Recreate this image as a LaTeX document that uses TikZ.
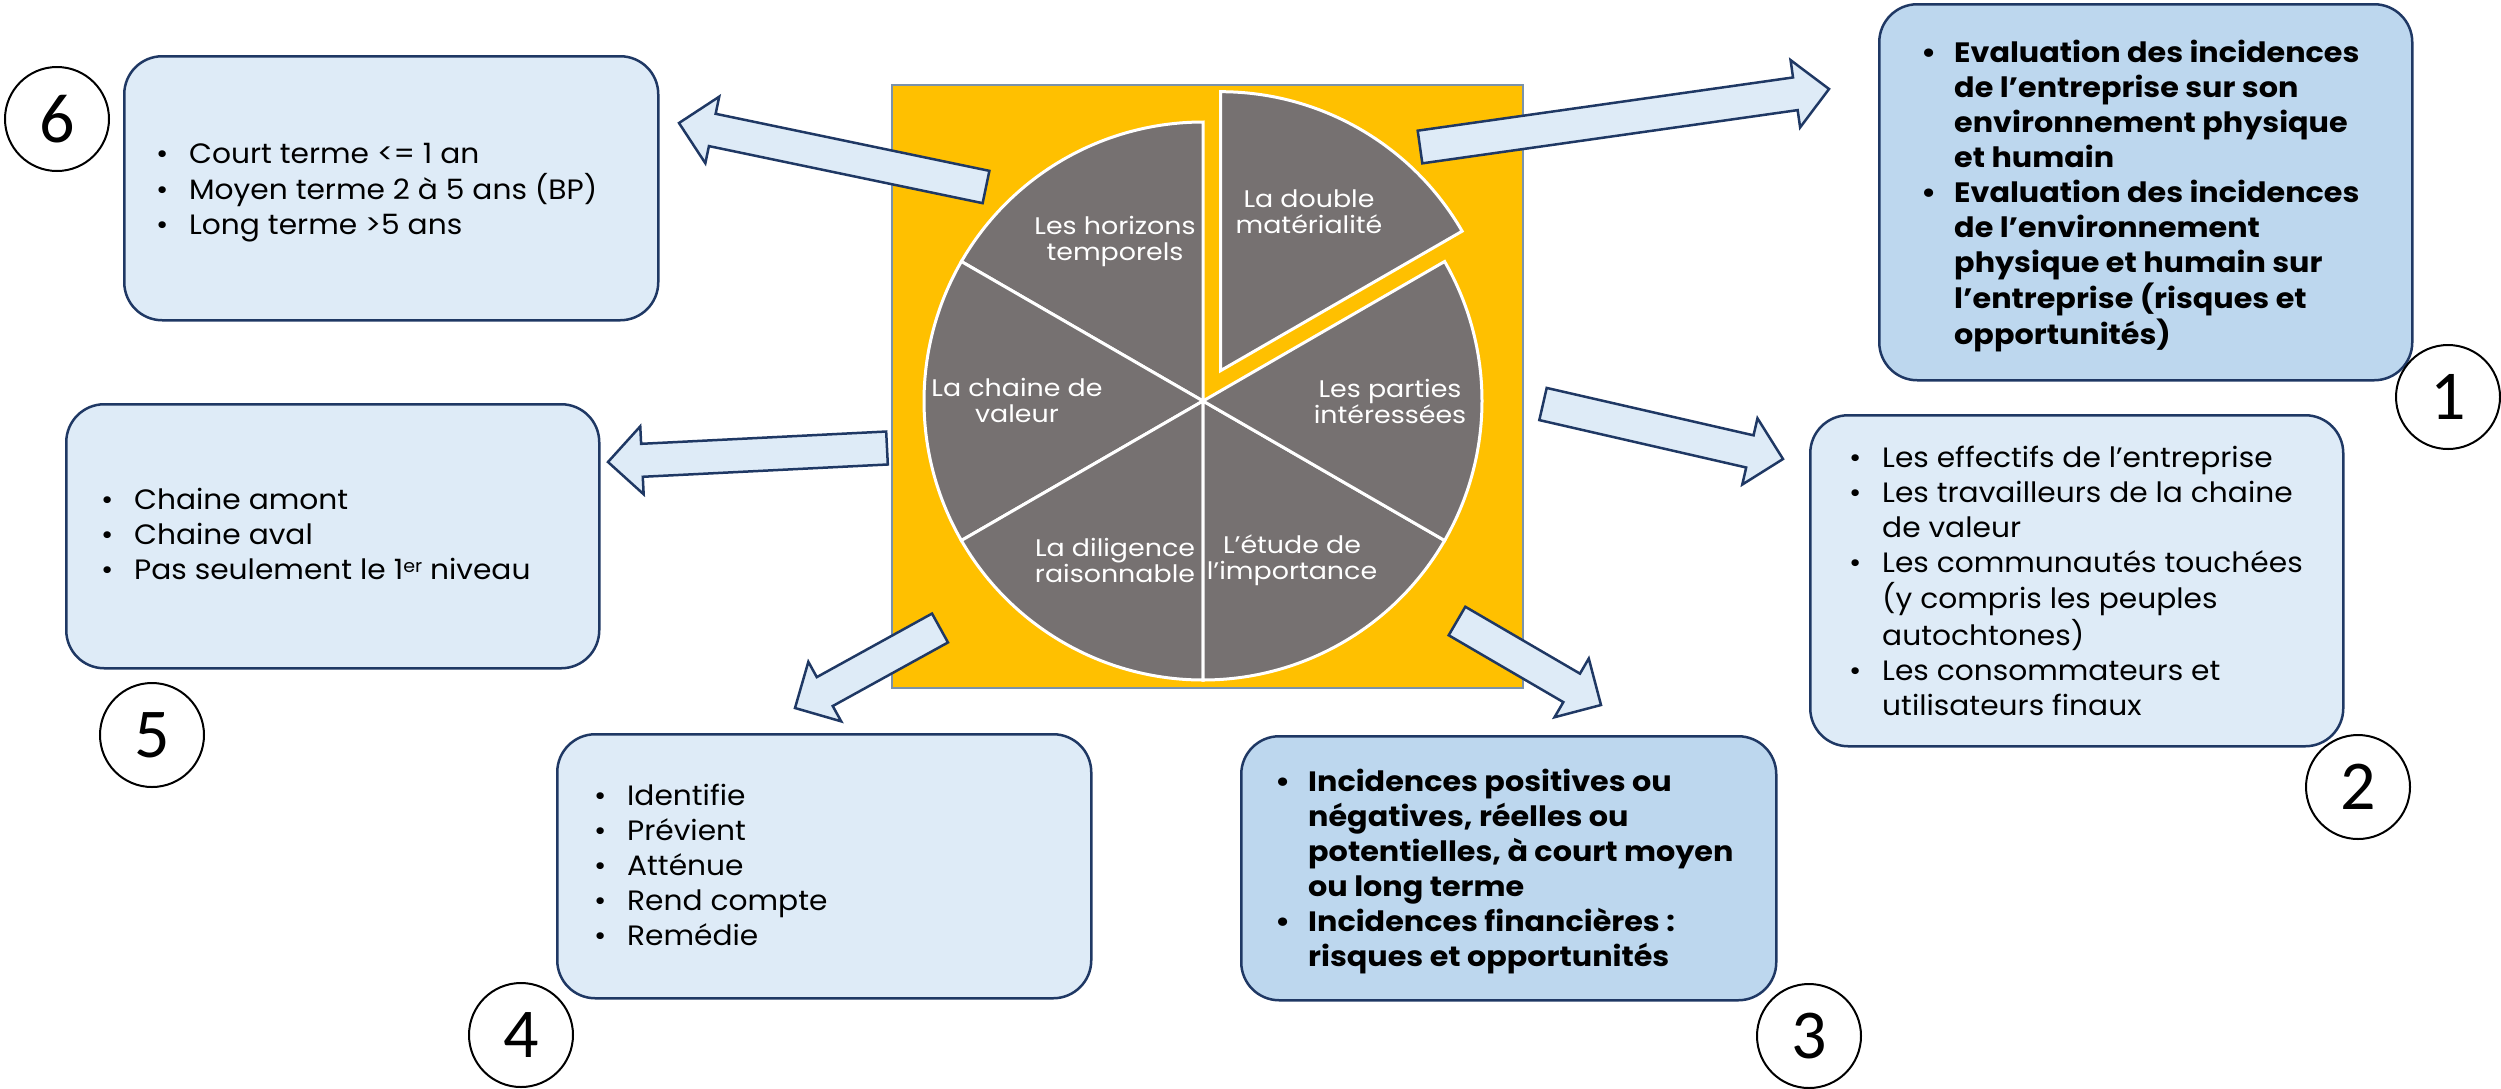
\documentclass[tikz,border=0pt]{standalone}
\usepackage{fontspec}
\setmainfont[FakeStretch=1.06]{Poppins}
\newfontfamily\boldfam[FakeStretch=1.08]{Poppins}
\newfontfamily\slicefam[FakeStretch=1.12]{Poppins}
\newfontfamily\numfont{Carlito}
\usetikzlibrary{calc}
\definecolor{navy}{HTML}{1F3864}
\definecolor{lightbox}{HTML}{DEEBF7}
\definecolor{midbox}{HTML}{BDD7EE}
\definecolor{gold}{HTML}{FFC000}
\definecolor{piegray}{HTML}{767171}
\definecolor{rectedge}{HTML}{7A92AA}
\newcommand\bulx{\makebox[33pt][l]{\textbullet}}
\newcommand\indx{\hspace*{33pt}}
\newcommand\blockarrow[2]{%
  \coordinate (#1H) at ($(#2)!34pt!(#1)$);
  \draw[arrowsty] ($(#1)!16.5pt!90:(#2)$) -- ($(#1H)!16.5pt!90:(#2)$) -- ($(#1H)!34pt!90:(#2)$) -- (#2)
     -- ($(#1H)!34pt!-90:(#2)$) -- ($(#1H)!16.5pt!-90:(#2)$) -- ($(#1)!16.5pt!-90:(#2)$) -- cycle;}
\begin{document}
\begin{tikzpicture}[x=1pt,y=-1pt,
  boxsty/.style={draw=navy, line width=2.5pt, rounded corners=38pt, inner sep=0pt, anchor=north west},
  txt/.style={anchor=base west, inner sep=0pt, font=\fontsize{28}{35}\selectfont},
  boldtxt/.style={anchor=base west, inner sep=0pt, font=\boldfam\fontsize{28}{35}\selectfont\bfseries},
  slicelbl/.style={text=white, align=center, inner sep=0pt, font=\slicefam\fontsize{24}{26}\selectfont},
  slicesty/.style={fill=piegray, draw=white, line width=3pt, line join=miter},
  numcirc/.style={circle, draw=black, line width=2pt, minimum size=104pt, inner sep=0pt, font=\numfont\fontsize{70}{70}\selectfont},
  arrowsty/.style={fill=lightbox, draw=navy, line width=2.5pt, line join=miter}]
\useasboundingbox (0,0) rectangle (2501,1088);

% boxes
\node[boxsty, fill=lightbox, minimum width=534pt, minimum height=264pt] (b6) at (123,55) {};
\node[boxsty, fill=midbox, minimum width=533pt, minimum height=376pt] (b1) at (1878,3) {};
\node[boxsty, fill=lightbox, minimum width=533pt, minimum height=331pt] (b2) at (1809,414) {};
\node[boxsty, fill=midbox, minimum width=535pt, minimum height=264pt] (b3) at (1240,735) {};
\node[boxsty, fill=lightbox, minimum width=534pt, minimum height=264pt] (b4) at (556,733) {};
\node[boxsty, fill=lightbox, minimum width=533pt, minimum height=264pt] (b5) at (65,403) {};

% box texts
\node[txt] (t6) at (156,163) {\begin{tabular}[t]{@{}l@{}}
\bulx Court terme <= 1 an\\
\bulx Moyen terme 2 à 5 ans (BP)\\
\bulx Long terme >5 ans\end{tabular}};
\node[boldtxt] (t1) at (1921,62) {\begin{tabular}[t]{@{}l@{}}
\bulx Evaluation des incidences\\
\indx de l’entreprise sur son\\
\indx environnement physique\\
\indx et humain\\
\bulx Evaluation des incidences\\
\indx de l’environnement\\
\indx physique et humain sur\\
\indx l’entreprise (risques et\\
\indx opportunités)\end{tabular}};
\node[txt] (t2) at (1849,467) {\begin{tabular}[t]{@{}l@{}}
\bulx Les effectifs de l’entreprise\\
\bulx Les travailleurs de la chaine\\
\indx de valeur\\
\bulx Les communautés touchées\\
\indx (y compris les peuples\\
\indx autochtones)\\
\bulx Les consommateurs et\\
\indx utilisateurs finaux\end{tabular}};
\node[boldtxt] (t3) at (1275,791) {\begin{tabular}[t]{@{}l@{}}
\bulx Incidences positives ou\\
\indx négatives, réelles ou\\
\indx potentielles, à court moyen\\
\indx ou long terme\\
\bulx Incidences financières :\\
\indx risques et opportunités\end{tabular}};
\node[txt] (t4) at (594,805) {\begin{tabular}[t]{@{}l@{}}
\bulx Identifie\\
\bulx Prévient\\
\bulx Atténue\\
\bulx Rend compte\\
\bulx Remédie\end{tabular}};
\node[txt] (t5) at (101,509) {\begin{tabular}[t]{@{}l@{}}
\bulx Chaine amont\\
\bulx Chaine aval\\
\bulx Pas seulement le 1\raisebox{7pt}{\fontsize{18}{18}\selectfont er} niveau\end{tabular}};

% central yellow panel and pie
\node[draw=rectedge, fill=gold, line width=1.5pt, anchor=north west, inner sep=0pt,
      minimum width=631pt, minimum height=603pt] (panel) at (891,84) {};
\begin{scope}[shift={(1203,401)}, y=1pt]
  \foreach \a in {90,150,210,270,330}
    \filldraw[slicesty] (0,0) -- (\a:279) arc[start angle=\a, end angle=\a+60, radius=279] -- cycle;
  \filldraw[slicesty, shift={(60:35)}] (0,0) -- (30:279) arc[start angle=30, end angle=90, radius=279] -- cycle;
\end{scope}
\node[slicelbl] (s1) at (1309,212) {La double\\matérialité};
\node[slicelbl] (s2) at (1390,401) {Les parties\\intéressées};
\node[slicelbl] (s3) at (1292,560) {L’étude de\\l’importance};
\node[slicelbl] (s4) at (1115,560) {La diligence\\raisonnable};
\node[slicelbl] (s5) at (1017,400) {La chaine de\\valeur};
\node[slicelbl] (s6) at (1115,241) {Les horizons\\temporels};

% block arrows
\coordinate (a1) at (1420,147); \coordinate (a1e) at (1829,89);
\coordinate (a2) at (1543,404); \coordinate (a2e) at (1783,459);
\coordinate (a3) at (1457,621); \coordinate (a3e) at (1601,705);
\coordinate (a4) at (940,628);  \coordinate (a4e) at (795,708);
\coordinate (a5) at (887,448);  \coordinate (a5e) at (608,462);
\coordinate (a6) at (986,187);  \coordinate (a6e) at (679,123);
\blockarrow{a1}{a1e}
\blockarrow{a2}{a2e}
\blockarrow{a3}{a3e}
\blockarrow{a4}{a4e}
\blockarrow{a5}{a5e}
\blockarrow{a6}{a6e}

% number circles
\node[numcirc] (c1) at (2448,397) {1};
\node[numcirc] (c2) at (2358,787) {2};
\node[numcirc] (c3) at (1809,1036) {3};
\node[numcirc] (c4) at (521,1035) {4};
\node[numcirc] (c5) at (152,735) {5};
\node[numcirc] (c6) at (57,119) {6};
\end{tikzpicture}
\end{document}
